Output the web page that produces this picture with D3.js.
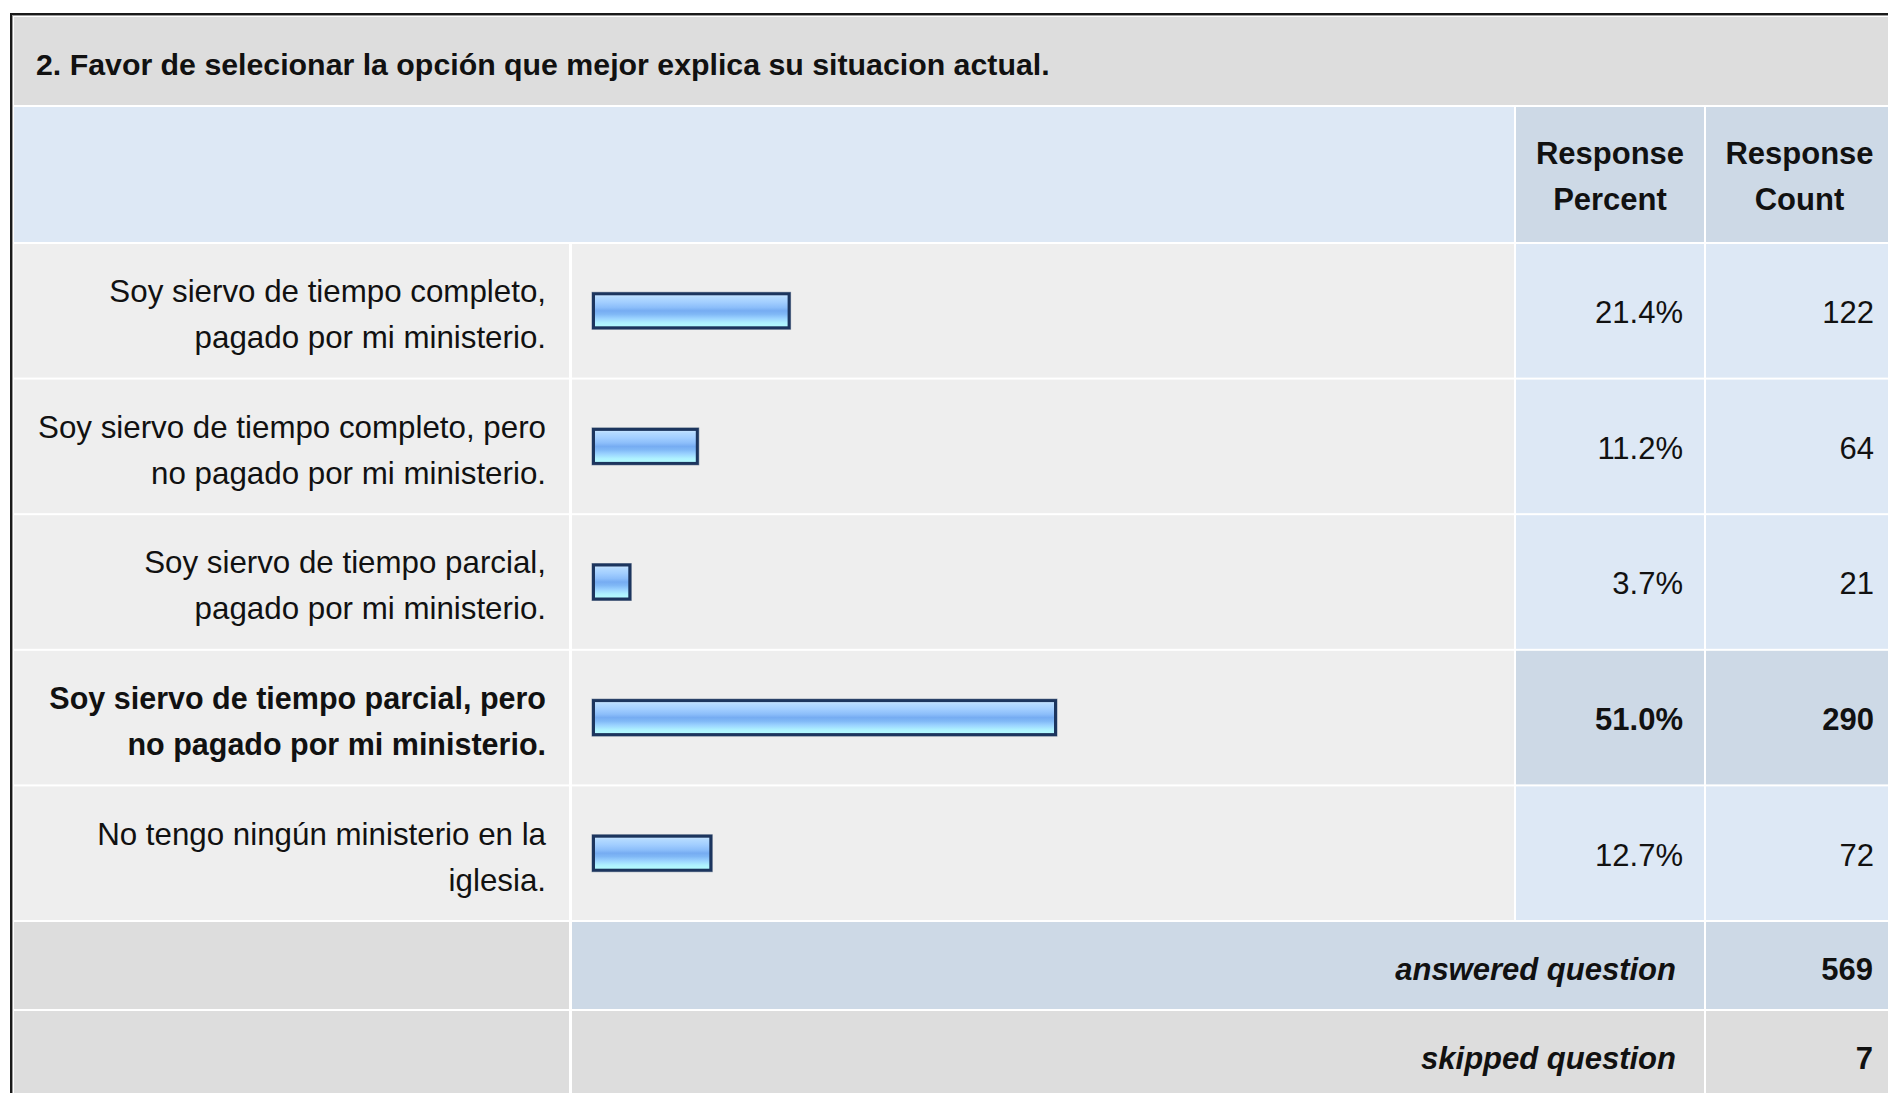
<!DOCTYPE html>
<html>
<head>
<meta charset="utf-8">
<script src="https://cdn.jsdelivr.net/npm/d3@7"></script>
<style>
  html, body { margin: 0; padding: 0; background: #ffffff; overflow: hidden; }
  svg { display: block; font-family: "Liberation Sans", Arial, Helvetica, sans-serif; }
</style>
</head>
<body>
<svg id="chart" width="1888" height="1093"></svg>
<script>
// ---- data ----
const title = "2. Favor de selecionar la opción que mejor explica su situacion actual.";
const headerPercent = ["Response", "Percent"];
const headerCount = ["Response", "Count"];
const categories = [
  "Soy siervo de tiempo completo,\npagado por mi ministerio.",
  "Soy siervo de tiempo completo, pero\nno pagado por mi ministerio.",
  "Soy siervo de tiempo parcial,\npagado por mi ministerio.",
  "Soy siervo de tiempo parcial, pero\nno pagado por mi ministerio.",
  "No tengo ningún ministerio en la\niglesia."
];
const percents = [21.4, 11.2, 3.7, 51.0, 12.7];
const counts = [122, 64, 21, 290, 72];
const footerLabels = ["answered question", "skipped question"];
const footerValues = [569, 7];

// ---- layout ----
const svg = d3.select("#chart");
const C = {
  left: 14, labelR: 569, barL: 572, barR: 1514,
  pctL: 1516, pctR: 1704, cntL: 1706, cntR: 1893
};
const colors = {
  title: "#dddddd", head: "#dde8f5", headDark: "#cdd9e6",
  cell: "#eeeeee", val: "#dde8f5", valDark: "#cdd9e6", foot: "#dddddd", text: "#111111"
};
const maxCount = d3.max(counts);

// gradient for the bars
const defs = svg.append("defs");
const grad = defs.append("linearGradient").attr("id", "barGrad")
  .attr("x1", 0).attr("y1", 0).attr("x2", 0).attr("y2", 1);
[[0, "#d2eaff"], [0.1, "#b4daff"], [0.25, "#a2ceff"], [0.4, "#8cbefa"], [0.5, "#76acf2"],
 [0.6, "#80b8f6"], [0.72, "#9ad2ff"], [0.85, "#aef0ff"], [1, "#b6ffff"]]
  .forEach(([o, c]) => grad.append("stop").attr("offset", o).attr("stop-color", c));

// outer frame
svg.append("rect").attr("x", 11).attr("y", 14).attr("width", 1900).attr("height", 1200)
  .attr("fill", "#ffffff").attr("stroke", "#1a1a1a").attr("stroke-width", 2);
svg.append("rect").attr("x", 12.5).attr("y", 15.5).attr("width", 1900).attr("height", 1200)
  .attr("fill", "none").attr("stroke", "#9a9a9a").attr("stroke-width", 1);

// title band
svg.append("rect").attr("x", C.left).attr("y", 17).attr("width", C.cntR - C.left).attr("height", 88)
  .attr("fill", colors.title);
svg.append("text").attr("x", 36).attr("y", 75).attr("font-size", 30.3).attr("font-weight", "bold")
  .attr("fill", colors.text).text(title);

// header row
const headTop = 107, headBot = 242;
svg.append("rect").attr("x", C.left).attr("y", headTop).attr("width", C.barR - C.left).attr("height", headBot - headTop)
  .attr("fill", colors.head);
[[C.pctL, C.pctR, headerPercent], [C.cntL, C.cntR, headerCount]].forEach(([l, r, lines]) => {
  svg.append("rect").attr("x", l).attr("y", headTop).attr("width", r - l).attr("height", headBot - headTop)
    .attr("fill", colors.headDark);
  const t = svg.append("text").attr("text-anchor", "middle").attr("font-size", 31).attr("font-weight", "bold")
    .attr("fill", colors.text);
  lines.forEach((ln, i) => t.append("tspan").attr("x", (l + r) / 2).attr("y", 164 + i * 46).text(ln));
});

// rows
const y = d3.scaleBand().domain(d3.range(categories.length)).range([244, 922]).paddingInner(0);
const rowH = y.bandwidth() - 2;
const x = d3.scaleLinear().domain([0, 100]).range([593.5, 1493.5]);
const barH = 34;

const rows = svg.append("g").selectAll("g").data(categories.map((c, i) => ({
  label: c, pct: percents[i], count: counts[i], hi: counts[i] === maxCount, i
}))).join("g").attr("transform", d => `translate(0,${y(d.i)})`);

rows.append("rect").attr("x", C.left).attr("width", C.labelR - C.left).attr("height", rowH).attr("fill", colors.cell);
rows.append("rect").attr("x", C.barL).attr("width", C.barR - C.barL).attr("height", rowH).attr("fill", colors.cell);
rows.append("rect").attr("x", C.pctL).attr("width", C.pctR - C.pctL).attr("height", rowH)
  .attr("fill", d => d.hi ? colors.valDark : colors.val);
rows.append("rect").attr("x", C.cntL).attr("width", C.cntR - C.cntL).attr("height", rowH)
  .attr("fill", d => d.hi ? colors.valDark : colors.val);

// labels
rows.each(function(d) {
  const lines = d.label.split("\n");
  const t = d3.select(this).append("text").attr("text-anchor", "end").attr("font-size", d.hi ? 30.5 : 31.3)
    .attr("font-weight", d.hi ? "bold" : "normal").attr("fill", colors.text);
  const first = rowH / 2 - (lines.length - 1) * 23 + 14.5;
  lines.forEach((ln, k) => t.append("tspan").attr("x", 546).attr("y", first + k * 46).text(ln));
});

// bars
rows.append("rect")
  .attr("x", x(0) - 1.5).attr("y", rowH / 2 - barH / 2 - 1.5)
  .attr("width", d => x(d.pct) - x(0) + 6).attr("height", barH + 3)
  .attr("fill", "none").attr("stroke", "#8e9aab").attr("stroke-width", 1);
rows.append("rect")
  .attr("x", x(0)).attr("y", rowH / 2 - barH / 2)
  .attr("width", d => x(d.pct) - x(0) + 3).attr("height", barH)
  .attr("fill", "url(#barGrad)").attr("stroke", "#1c355e").attr("stroke-width", 3);

// values
rows.append("text").attr("x", C.pctR - 21).attr("y", rowH / 2 + 12.5).attr("text-anchor", "end")
  .attr("font-size", 31).attr("font-weight", d => d.hi ? "bold" : "normal").attr("fill", colors.text)
  .text(d => d.pct.toFixed(1) + "%");
rows.append("text").attr("x", C.cntR - 19).attr("y", rowH / 2 + 12.5).attr("text-anchor", "end")
  .attr("font-size", 31).attr("font-weight", d => d.hi ? "bold" : "normal").attr("fill", colors.text)
  .text(d => d.count);

// footer rows
const fy = d3.scaleBand().domain(d3.range(footerLabels.length)).range([922, 1011 + 89]);
footerLabels.forEach((lab, i) => {
  const top = fy(i), h = fy.bandwidth() - 2;
  const g = svg.append("g").attr("transform", `translate(0,${top})`);
  const mid = i === 0 ? colors.valDark : colors.foot;
  g.append("rect").attr("x", C.left).attr("width", C.labelR - C.left).attr("height", h).attr("fill", colors.foot);
  g.append("rect").attr("x", C.barL).attr("width", C.pctR - C.barL).attr("height", h).attr("fill", mid);
  g.append("rect").attr("x", C.cntL).attr("width", C.cntR - C.cntL).attr("height", h).attr("fill", mid);
  g.append("text").attr("x", C.pctR - 28).attr("y", h / 2 + 14.5).attr("text-anchor", "end")
    .attr("font-size", 31).attr("font-weight", "bold").attr("font-style", "italic").attr("fill", colors.text)
    .text(lab);
  g.append("text").attr("x", C.cntR - 20).attr("y", h / 2 + 14.5).attr("text-anchor", "end")
    .attr("font-size", 31).attr("font-weight", "bold").attr("fill", colors.text)
    .text(footerValues[i]);
});
</script>
</body>
</html>
